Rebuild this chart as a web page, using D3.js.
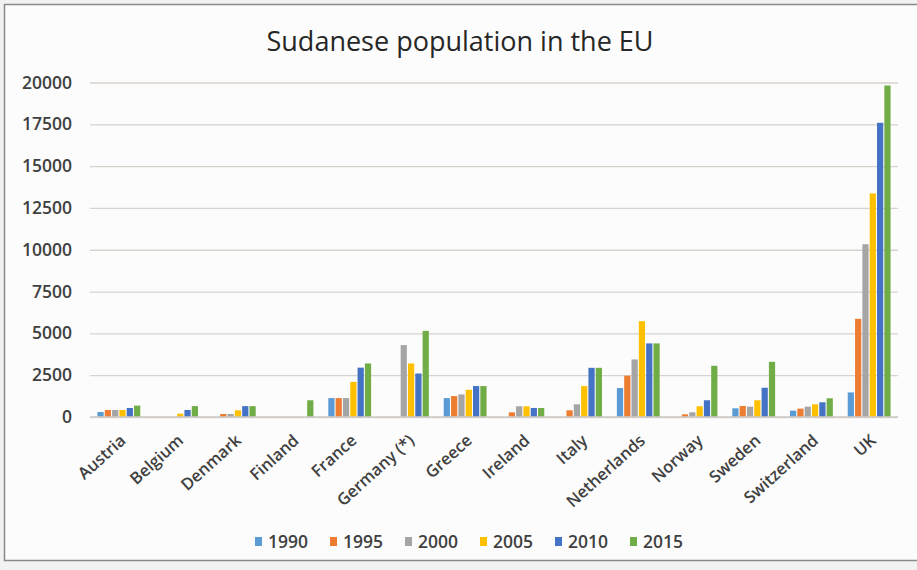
<!DOCTYPE html>
<html>
<head>
<meta charset="utf-8">
<script src="https://cdn.jsdelivr.net/npm/d3@7"></script>
<style>
  html, body { margin: 0; padding: 0; background: #ffffff; }
  svg { display: block; }
  text { font-family: "Open Sans", "Noto Sans", sans-serif; }
</style>
</head>
<body>
<svg id="chart" width="917" height="570"></svg>
<script>
// Countries on the category axis
const countries = ["Austria", "Belgium", "Denmark", "Finland", "France", "Germany (*)",
  "Greece", "Ireland", "Italy", "Netherlands", "Norway", "Sweden", "Switzerland", "UK"];

// Census years (one bar series each)
const years = ["1990", "1995", "2000", "2005", "2010", "2015"];

// Sudanese residents per country, one array per year
const pop1990 = [300, 0, 0, 0, 1130, 0, 1130, 0, 0, 1730, 0, 520, 380, 1470];
const pop1995 = [420, 0, 180, 0, 1130, 0, 1250, 280, 400, 2470, 160, 660, 500, 5870];
const pop2000 = [420, 0, 180, 0, 1130, 4300, 1350, 640, 760, 3440, 280, 620, 620, 10330];
const pop2005 = [420, 200, 400, 0, 2100, 3200, 1630, 640, 1850, 5730, 640, 1000, 760, 13370];
const pop2010 = [540, 420, 650, 0, 2950, 2600, 1850, 540, 2940, 4400, 1000, 1750, 880, 17590];
const pop2015 = [680, 650, 650, 1000, 3200, 5150, 1850, 540, 2940, 4400, 3060, 3300, 1120, 19820];

// Value-axis ticks
const yTicks = [0, 2500, 5000, 7500, 10000, 12500, 15000, 17500, 20000];

const seriesValues = [pop1990, pop1995, pop2000, pop2005, pop2010, pop2015];
const colors = ["#5B9BD5", "#ED7D31", "#A5A5A5", "#FFC000", "#4472C4", "#70AD47"];

const svg = d3.select("#chart");

// Frame of the chart area
svg.append("rect").attr("x", 0).attr("y", 0).attr("width", 917).attr("height", 570).attr("fill", "#f2f2f2");
svg.append("rect")
  .attr("x", 4.5).attr("y", 4.5).attr("width", 940).attr("height", 556)
  .attr("fill", "#fcfcfc").attr("stroke", "#8a8a8a").attr("stroke-width", 1.5);

const plot = { left: 90, right: 898, top: 82.5, bottom: 417 };

const x0 = d3.scaleBand().domain(countries).range([plot.left, plot.right])
  .paddingInner(0.22).paddingOuter(0.11);
const x1 = d3.scaleBand().domain(years).range([0, x0.bandwidth()]).padding(0.15);
const y = d3.scaleLinear().domain([0, 20000]).range([plot.bottom, plot.top]);

// Gridlines and value labels
const yAxis = d3.axisLeft(y).tickValues(yTicks).tickSize(-(plot.right - plot.left)).tickPadding(18)
  .tickFormat(d3.format("d"));
const gy = svg.append("g").attr("transform", `translate(${plot.left},0)`).call(yAxis);
gy.select(".domain").remove();
gy.selectAll(".tick line").attr("stroke", "#d8d2cd").attr("stroke-width", 1.3);
gy.selectAll(".tick text")
  .attr("fill", "#404040").attr("font-size", 17.5).attr("font-weight", 600)
  .style("font-family", "'Open Sans', sans-serif");

// Clustered bars
const rows = countries.map((c, i) => ({ country: c, vals: years.map((yr, s) => ({ yr, s, v: seriesValues[s][i] })) }));
svg.append("g").selectAll("g").data(rows).join("g")
  .attr("transform", d => `translate(${x0(d.country)},0)`)
  .selectAll("rect").data(d => d.vals.filter(e => e.v > 0)).join("rect")
  .attr("x", d => x1(d.yr))
  .attr("width", x1.bandwidth())
  .attr("y", d => y(d.v))
  .attr("height", d => y(0) - y(d.v))
  .attr("fill", d => colors[d.s]);

// Category axis baseline
svg.append("line")
  .attr("x1", plot.left).attr("x2", plot.right)
  .attr("y1", y(0)).attr("y2", y(0))
  .attr("stroke", "#cfcac6").attr("stroke-width", 1.3);

// Rotated country labels
const xAxis = d3.axisBottom(x0).tickSize(0).tickPadding(0);
const gx = svg.append("g").attr("transform", `translate(0,${plot.bottom})`).call(xAxis);
gx.select(".domain").remove();
gx.selectAll(".tick text")
  .attr("fill", "#404040").attr("font-size", 16.5).attr("font-weight", 600)
  .style("font-family", "'Open Sans', sans-serif")
  .attr("text-anchor", "end").attr("dy", 0).attr("y", 0)
  .attr("transform", "translate(8,25) rotate(-42)");

// Title
svg.append("text")
  .attr("x", 460).attr("y", 51)
  .attr("text-anchor", "middle")
  .attr("font-size", 27).attr("fill", "#262626")
  .text("Sudanese population in the EU");

// Legend
const legend = svg.append("g").attr("transform", "translate(255,0)");
const items = legend.selectAll("g").data(years).join("g")
  .attr("transform", (d, i) => `translate(${i * 75},0)`);
items.append("rect").attr("x", 0).attr("y", 537).attr("width", 7).attr("height", 9)
  .attr("fill", (d, i) => colors[i]);
items.append("text").attr("x", 13).attr("y", 547.5)
  .attr("font-size", 17.5).attr("font-weight", 600).attr("fill", "#404040")
  .text(d => d);
</script>
</body>
</html>
